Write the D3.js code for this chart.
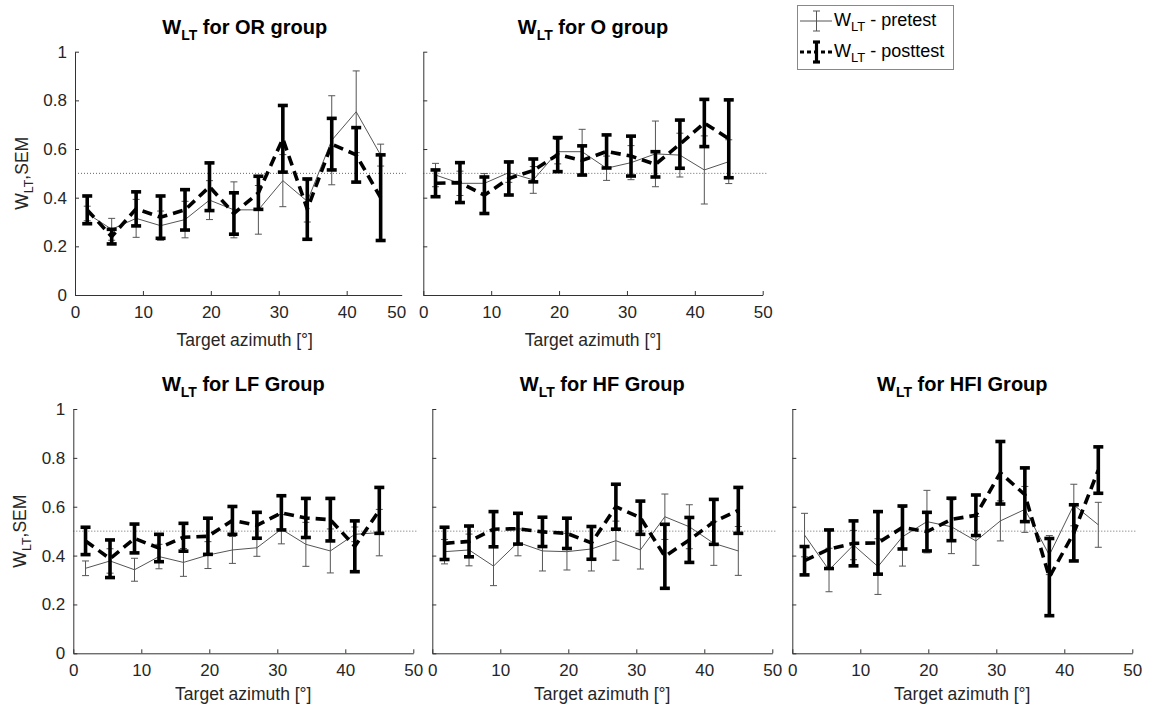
<!DOCTYPE html>
<html>
<head>
<meta charset="utf-8">
<script src="https://cdn.jsdelivr.net/npm/d3@7"></script>
<style>
  html, body { margin: 0; padding: 0; background: #fff; }
  svg { display: block; font-family: "Liberation Sans", Arial, sans-serif; }
</style>
</head>
<body>
<svg id="chart" width="1158" height="708"></svg>
<script>
// Target azimuth bin centres (degrees)
const azimuth = [1.8, 5.4, 9.0, 12.6, 16.2, 19.8, 23.4, 27.0, 30.6, 34.2, 37.8, 41.4, 45.0];
const xTicks = [0, 10, 20, 30, 40, 50];
const yTicks = [0, 0.2, 0.4, 0.6, 0.8, 1];
const chanceLevel = 0.5;

// OR group
const orPre      = [0.335, 0.27, 0.315, 0.285, 0.31, 0.39, 0.35, 0.35, 0.47, 0.385, 0.636, 0.753, 0.575];
const orPreSem   = [0.03, 0.045, 0.078, 0.06, 0.075, 0.08, 0.115, 0.1, 0.107, 0.085, 0.183, 0.168, 0.045];
const orPost     = [0.35, 0.24, 0.354, 0.32, 0.35, 0.445, 0.335, 0.42, 0.642, 0.353, 0.62, 0.576, 0.40];
const orPostSem  = [0.057, 0.03, 0.07, 0.087, 0.083, 0.098, 0.085, 0.068, 0.137, 0.124, 0.106, 0.112, 0.176];

// O group
const oPre       = [0.493, 0.459, 0.459, 0.503, 0.473, 0.589, 0.589, 0.521, 0.544, 0.58, 0.575, 0.514, 0.548];
const oPreSem    = [0.048, 0.05, 0.04, 0.04, 0.055, 0.05, 0.092, 0.05, 0.07, 0.135, 0.09, 0.14, 0.09];
const oPost      = [0.459, 0.462, 0.41, 0.479, 0.512, 0.577, 0.553, 0.59, 0.571, 0.537, 0.62, 0.707, 0.642];
const oPostSem   = [0.055, 0.082, 0.075, 0.068, 0.047, 0.07, 0.06, 0.068, 0.082, 0.052, 0.099, 0.097, 0.16];

// LF group
const lfPre      = [0.348, 0.378, 0.342, 0.396, 0.372, 0.402, 0.423, 0.432, 0.508, 0.446, 0.419, 0.487, 0.494];
const lfPreSem   = [0.03, 0.05, 0.047, 0.05, 0.057, 0.055, 0.055, 0.035, 0.06, 0.09, 0.09, 0.03, 0.095];
const lfPost     = [0.46, 0.387, 0.47, 0.431, 0.475, 0.479, 0.544, 0.524, 0.575, 0.554, 0.547, 0.438, 0.585];
const lfPostSem  = [0.056, 0.077, 0.059, 0.056, 0.057, 0.074, 0.057, 0.053, 0.07, 0.08, 0.087, 0.104, 0.094];

// HF group
const hfPre      = [0.416, 0.423, 0.357, 0.454, 0.419, 0.416, 0.427, 0.461, 0.423, 0.559, 0.518, 0.45, 0.419];
const hfPreSem   = [0.05, 0.065, 0.08, 0.055, 0.082, 0.075, 0.09, 0.08, 0.078, 0.093, 0.09, 0.09, 0.1];
const hfPost     = [0.45, 0.458, 0.508, 0.51, 0.497, 0.491, 0.452, 0.6, 0.555, 0.397, 0.464, 0.538, 0.585];
const hfPostSem  = [0.066, 0.063, 0.072, 0.063, 0.06, 0.062, 0.067, 0.092, 0.068, 0.131, 0.092, 0.092, 0.094];

// HFI group
const hfiPre     = [0.484, 0.341, 0.443, 0.355, 0.477, 0.539, 0.518, 0.46, 0.542, 0.589, 0.402, 0.607, 0.526];
const hfiPreSem  = [0.089, 0.089, 0.06, 0.114, 0.12, 0.128, 0.11, 0.1, 0.082, 0.094, 0.08, 0.085, 0.092];
const hfiPost    = [0.379, 0.426, 0.45, 0.452, 0.515, 0.498, 0.548, 0.565, 0.739, 0.649, 0.312, 0.493, 0.75];
const hfiPostSem = [0.058, 0.079, 0.092, 0.128, 0.088, 0.079, 0.087, 0.083, 0.128, 0.11, 0.158, 0.115, 0.095];

// Panel layout (pixel geometry only)
const panels = [
  { name: "OR group",  pre: orPre,  preSem: orPreSem,  post: orPost,  postSem: orPostSem,
    left: 75,    right: 401.7,  xEnd: 48.1, top: 51.7, bottom: 295,   yLabels: true,  titleY: 33.5,  xLabelY: 345.5 },
  { name: "O group",   pre: oPre,   preSem: oPreSem,   post: oPost,   postSem: oPostSem,
    left: 423.3, right: 762.7,  xEnd: 50,   top: 51.7, bottom: 295,   yLabels: false, titleY: 33.5,  xLabelY: 345.5 },
  { name: "LF Group",  pre: lfPre,  preSem: lfPreSem,  post: lfPost,  postSem: lfPostSem,
    left: 73.3,  right: 413.3,  xEnd: 50,   top: 409,  bottom: 653.3, yLabels: true,  titleY: 390.7, xLabelY: 700 },
  { name: "HF Group",  pre: hfPre,  preSem: hfPreSem,  post: hfPost,  postSem: hfPostSem,
    left: 432.3, right: 772.3,  xEnd: 50,   top: 409,  bottom: 653.3, yLabels: false, titleY: 390.7, xLabelY: 700 },
  { name: "HFI Group", pre: hfiPre, preSem: hfiPreSem, post: hfiPost, postSem: hfiPostSem,
    left: 792.3, right: 1132.3, xEnd: 50,   top: 409,  bottom: 653.3, yLabels: false, titleY: 390.7, xLabelY: 700 }
];

const svg = d3.select("#chart");
const axisColor = "#333";
const textColor = "#262626";
const tickFont = 17;
const labelFont = 17.5;
const preStyle  = { color: "#555", width: 1,   cap: 3.5, dash: null };
const postStyle = { color: "#000", width: 3.6, cap: 5,   dash: "10,6" };

function errorSeries(g, x, y, means, sems, st) {
  const bars = g.append("g");
  means.forEach((m, i) => {
    const cx = x(azimuth[i]);
    const y1 = y(m - sems[i]), y2 = y(m + sems[i]);
    bars.append("line").attr("x1", cx).attr("x2", cx).attr("y1", y1).attr("y2", y2);
    bars.append("line").attr("x1", cx - st.cap).attr("x2", cx + st.cap).attr("y1", y1).attr("y2", y1);
    bars.append("line").attr("x1", cx - st.cap).attr("x2", cx + st.cap).attr("y1", y2).attr("y2", y2);
  });
  bars.attr("stroke", st.color).attr("stroke-width", st.width).attr("fill", "none");

  const line = d3.line().x((d, i) => x(azimuth[i])).y(d => y(d));
  g.append("path")
    .datum(means)
    .attr("d", line)
    .attr("fill", "none")
    .attr("stroke", st.color)
    .attr("stroke-width", st.width)
    .attr("stroke-dasharray", st.dash);
}

function subscriptLabel(sel, main, sub, rest, subSize, shift) {
  sel.append("tspan").text(main);
  sel.append("tspan").attr("font-size", subSize).attr("dy", shift).text(sub);
  sel.append("tspan").attr("dy", -shift).text(rest);
}

panels.forEach(p => {
  const x = d3.scaleLinear().domain([0, p.xEnd]).range([p.left, p.right]);
  const y = d3.scaleLinear().domain([0, 1]).range([p.bottom, p.top]);
  const g = svg.append("g");

  // chance level reference
  g.append("line")
    .attr("x1", x(0)).attr("x2", x(p.xEnd) + 4)
    .attr("y1", y(chanceLevel)).attr("y2", y(chanceLevel))
    .attr("stroke", "#666").attr("stroke-width", 1).attr("stroke-dasharray", "1,2");

  // x axis
  const xa = g.append("g")
    .attr("transform", `translate(0,${p.bottom})`)
    .call(d3.axisBottom(x).tickValues(xTicks.filter(v => v <= p.xEnd))
      .tickSizeInner(-4).tickSizeOuter(0).tickPadding(11).tickFormat(d3.format("d")));
  if (p.xEnd < 50) {
    xa.append("text")
      .attr("x", x(p.xEnd) - 5).attr("y", 11).attr("dy", "0.71em")
      .attr("text-anchor", "middle").text(d3.format("d")(xTicks[xTicks.length - 1]));
  }
  // y axis
  const ya = g.append("g")
    .attr("transform", `translate(${p.left},0)`)
    .call(d3.axisLeft(y).tickValues(yTicks)
      .tickSizeInner(-4).tickSizeOuter(0).tickPadding(8)
      .tickFormat(p.yLabels ? d3.format("~g") : () => ""));

  [xa, ya].forEach(a => {
    a.select(".domain").attr("stroke", axisColor);
    a.selectAll(".tick line").attr("stroke", axisColor);
    a.selectAll("text").attr("fill", textColor).attr("font-size", tickFont)
      .attr("font-family", "\"Liberation Sans\", Arial, sans-serif");
  });

  // data
  errorSeries(g, x, y, p.pre, p.preSem, preStyle);
  errorSeries(g, x, y, p.post, p.postSem, postStyle);

  const cx = (x.range()[0] + (p.xEnd < 50 ? p.left + (p.right - p.left) * 50 / p.xEnd : p.right)) / 2;

  // title
  const t = g.append("text")
    .attr("x", cx).attr("y", p.titleY)
    .attr("text-anchor", "middle").attr("font-weight", "bold")
    .attr("font-size", 20).attr("fill", "#000");
  subscriptLabel(t, "W", "LT", " for " + p.name, 14, 6);

  // x label
  g.append("text")
    .attr("x", cx).attr("y", p.xLabelY)
    .attr("text-anchor", "middle").attr("font-size", labelFont).attr("fill", textColor)
    .text("Target azimuth [°]");

  // y label
  if (p.yLabels) {
    const yl = g.append("text")
      .attr("transform", `translate(${p.left - 47},${(p.top + p.bottom) / 2}) rotate(-90)`)
      .attr("text-anchor", "middle").attr("font-size", labelFont).attr("fill", textColor);
    subscriptLabel(yl, "W", "LT", ",SEM", 12.5, 5);
  }
});

// legend
const lg = svg.append("g");
lg.append("rect").attr("x", 797.5).attr("y", 5.5).attr("width", 156).attr("height", 64)
  .attr("fill", "#fff").attr("stroke", "#888").attr("stroke-width", 1);

const legendRows = [
  { st: preStyle,  label: " - pretest",  y: 21,  half: 10, dash: null,  cap: 3.5 },
  { st: postStyle, label: " - posttest", y: 52,  half: 10, dash: "4,3", cap: 3.5 }
];
legendRows.forEach(r => {
  lg.append("line").attr("x1", 800).attr("x2", 832).attr("y1", r.y).attr("y2", r.y)
    .attr("stroke", r.st.color).attr("stroke-width", r.st === postStyle ? 3 : 1)
    .attr("stroke-dasharray", r.dash);
  const ex = 816.5;
  [[ex, ex, r.y - r.half, r.y + r.half],
   [ex - r.cap, ex + r.cap, r.y - r.half, r.y - r.half],
   [ex - r.cap, ex + r.cap, r.y + r.half, r.y + r.half]].forEach(c => {
    lg.append("line").attr("x1", c[0]).attr("x2", c[1]).attr("y1", c[2]).attr("y2", c[3])
      .attr("stroke", r.st.color).attr("stroke-width", r.st === postStyle ? 3.2 : 1);
  });
  const tx = lg.append("text").attr("x", 834).attr("y", r.y + 5)
    .attr("font-size", 18).attr("fill", "#000");
  subscriptLabel(tx, "W", "LT", r.label, 13, 5);
});
</script>
</body>
</html>
